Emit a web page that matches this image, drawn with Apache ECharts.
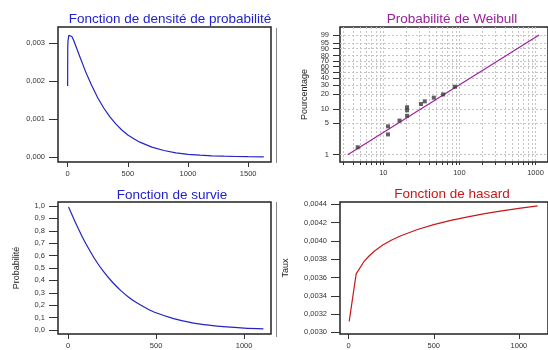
<!DOCTYPE html>
<html>
<head>
<meta charset="utf-8">
<script src="https://cdn.jsdelivr.net/npm/echarts@6/dist/echarts.min.js"></script>
<style>
  html, body { margin: 0; padding: 0; background: #fff; }
  #chart { width: 548px; height: 350px; }
</style>
</head>
<body>
<div id="chart"></div>
<script>
// ---- Densité de probabilité ----
const densityT = [0, 1, 3, 10, 20, 35, 50, 75, 100, 150, 200, 250, 300, 350, 400, 450, 500, 550, 600, 700, 800, 900, 1000, 1100, 1200, 1300, 1400, 1500, 1630];
const densityF = [0.00187, 0.00287, 0.00305, 0.00320, 0.00323, 0.00317, 0.00307, 0.00286, 0.00265, 0.00224, 0.00188, 0.00156, 0.00129, 0.00106, 0.00087, 0.00071, 0.00058, 0.00048, 0.00039, 0.00026, 0.00017, 0.00011, 0.00007, 0.000047, 0.000030, 0.000020, 0.000013, 0.000008, 0.000004];
const densityXTicks = [0, 500, 1000, 1500];
const densityYTicks = [0, 0.001, 0.002, 0.003];

// ---- Probabilité de Weibull (papier de probabilité) ----
const weibullX = [4.6, 11.5, 11.5, 16.3, 20.5, 20.5, 20.5, 31.2, 35, 46, 61, 87];
const weibullPct = [1.46, 2.8, 4.2, 5.6, 7.1, 9.3, 10.8, 12.6, 14.3, 17.0, 19.7, 27.8];
const fitX = [3.4, 1114];
const fitPct = [1, 99];
const weibullPctTicks = [1, 5, 10, 20, 30, 40, 50, 60, 70, 80, 90, 95, 99];
const weibullXLabels = [10, 100, 1000];
const weibullXGrid = [3, 4, 5, 6, 7, 8, 9, 10, 20, 30, 40, 50, 60, 70, 80, 90, 100, 200, 300, 400, 500, 600, 700, 800, 900, 1000];

// ---- Fonction de survie ----
const survT = [3, 25, 50, 75, 100, 150, 200, 250, 300, 350, 400, 450, 500, 600, 700, 800, 900, 1000, 1110];
const survS = [0.991, 0.921, 0.842, 0.768, 0.699, 0.577, 0.474, 0.389, 0.318, 0.259, 0.211, 0.172, 0.139, 0.092, 0.060, 0.039, 0.025, 0.016, 0.010];
const survXTicks = [0, 500, 1000];
const survYTicks = [0, 0.1, 0.2, 0.3, 0.4, 0.5, 0.6, 0.7, 0.8, 0.9, 1.0];

// ---- Fonction de hasard ----
const hazT = [3, 44, 90, 120, 150, 200, 250, 300, 400, 500, 600, 700, 800, 900, 1000, 1110];
const hazH = [0.00312, 0.00364, 0.003775, 0.003835, 0.003886, 0.003954, 0.004007, 0.004051, 0.004122, 0.004178, 0.004224, 0.004263, 0.004297, 0.004327, 0.004355, 0.004382];
const hazXTicks = [0, 500, 1000];
const hazYTicks = [0.0030, 0.0032, 0.0034, 0.0036, 0.0038, 0.0040, 0.0042, 0.0044];

// Weibull probability-paper transform: y = ln(-ln(1 - p))
const wb = p => Math.log(-Math.log(1 - p / 100));
const lg = v => Math.log10(v);
const comma = (v, d) => v.toFixed(d).replace('.', ',');

const FONT = '"Liberation Sans", Arial, sans-serif';
const LABEL = { fontFamily: FONT, fontSize: 7.5, color: '#333' };
const BORDER = '#222';

function gridBox(left, top, width, height) {
  return { left, top, width, height, show: true, borderColor: BORDER, borderWidth: 1.5, backgroundColor: '#fff' };
}

function valueAxis(gridIndex, min, max, ticks, fmt, tickLen, margin, extra) {
  return Object.assign({
    type: 'value', gridIndex, min, max,
    axisLine: { show: false, onZero: false },
    axisTick: { show: true, length: tickLen, customValues: ticks, lineStyle: { color: '#333', width: 1 } },
    axisLabel: Object.assign({ customValues: ticks, formatter: fmt, margin }, LABEL),
    splitLine: { show: false }
  }, extra || {});
}

const wbTickPos = weibullPctTicks.map(wb);
const gridLineStyle = { color: '#c4c4c4', type: [2, 2], width: 1 };

const chart = echarts.init(document.getElementById('chart'), null, { renderer: 'canvas' });

chart.setOption({
  animation: false,
  backgroundColor: '#fff',
  title: [
    { text: 'Fonction de densité de probabilité', left: 165, top: 7, textAlign: 'center',
      textStyle: { fontFamily: FONT, fontSize: 13.5, fontWeight: 'normal', color: '#2222cc' } },
    { text: 'Probabilité de Weibull', left: 447, top: 7, textAlign: 'center',
      textStyle: { fontFamily: FONT, fontSize: 13.5, fontWeight: 'normal', color: '#992299' } },
    { text: 'Fonction de survie', left: 167, top: 183, textAlign: 'center',
      textStyle: { fontFamily: FONT, fontSize: 13.5, fontWeight: 'normal', color: '#2222cc' } },
    { text: 'Fonction de hasard', left: 447, top: 182, textAlign: 'center',
      textStyle: { fontFamily: FONT, fontSize: 13.5, fontWeight: 'normal', color: '#c81818' } }
  ],
  grid: [
    gridBox(58, 27, 213, 135),
    gridBox(340, 27, 216, 135),
    gridBox(58, 202, 213, 134),
    gridBox(340, 202, 216, 134)
  ],
  xAxis: [
    valueAxis(0, -80, 1690, densityXTicks, v => String(v), 5, 8),
    {
      type: 'value', gridIndex: 1, min: 0.43, max: 3.164,
      axisLine: { show: false, onZero: false },
      axisTick: { show: true, length: 3, customValues: weibullXGrid.map(lg), lineStyle: { color: '#333' } },
      axisLabel: Object.assign({ customValues: weibullXLabels.map(lg), margin: 7,
        formatter: v => String(Math.round(Math.pow(10, v))) }, LABEL),
      splitLine: { show: true, lineStyle: gridLineStyle }
    },
    valueAxis(2, -57, 1153, survXTicks, v => String(v), 5, 8),
    valueAxis(3, -51, 1171, hazXTicks, v => String(v), 5, 8)
  ],
  yAxis: [
    valueAxis(0, -0.000132, 0.003421, densityYTicks, v => comma(v, 3), 9, 13),
    {
      type: 'value', gridIndex: 1, min: -4.974, max: 1.937,
      name: 'Pourcentage', nameLocation: 'middle', nameGap: 31,
      nameTextStyle: { fontFamily: FONT, fontSize: 9, color: '#222' },
      axisLine: { show: false, onZero: false },
      axisTick: { show: true, length: 7, customValues: wbTickPos, lineStyle: { color: '#333' } },
      axisLabel: Object.assign({ customValues: wbTickPos, margin: 11,
        formatter: v => {
          let best = 0;
          wbTickPos.forEach((p, i) => { if (Math.abs(p - v) < Math.abs(wbTickPos[best] - v)) best = i; });
          return String(weibullPctTicks[best]);
        } }, LABEL),
      splitLine: { show: true, lineStyle: gridLineStyle }
    },
    valueAxis(2, -0.032, 1.032, survYTicks, v => comma(v, 1), 9, 13,
      { name: 'Probabilité', nameLocation: 'middle', nameGap: 37,
        nameTextStyle: { fontFamily: FONT, fontSize: 9, color: '#222' } }),
    valueAxis(3, 0.002982, 0.004425, hazYTicks, v => comma(v, 4), 9, 13,
      { name: 'Taux', nameLocation: 'middle', nameGap: 50,
        nameTextStyle: { fontFamily: FONT, fontSize: 9, color: '#222' } })
  ],
  series: [
    {
      type: 'line', xAxisIndex: 0, yAxisIndex: 0, showSymbol: false, smooth: false,
      data: densityT.map((t, i) => [t, densityF[i]]),
      lineStyle: { color: '#2323c8', width: 1.2 }
    },
    {
      type: 'line', xAxisIndex: 1, yAxisIndex: 1, showSymbol: false,
      data: fitX.map((x, i) => [lg(x), wb(fitPct[i])]),
      lineStyle: { color: '#a020a0', width: 1.2 }, z: 3
    },
    {
      type: 'scatter', xAxisIndex: 1, yAxisIndex: 1, symbol: 'rect', symbolSize: 4,
      data: weibullX.map((x, i) => [lg(x), wb(weibullPct[i])]),
      itemStyle: { color: '#3a3a3a' }, z: 4
    },
    {
      type: 'line', xAxisIndex: 2, yAxisIndex: 2, showSymbol: false, smooth: 0.3,
      data: survT.map((t, i) => [t, survS[i]]),
      lineStyle: { color: '#2323c8', width: 1.2 }
    },
    {
      type: 'line', xAxisIndex: 3, yAxisIndex: 3, showSymbol: false, smooth: false,
      data: hazT.map((t, i) => [t, hazH[i]]),
      lineStyle: { color: '#c81818', width: 1.2 }
    }
  ],
  graphic: [
    { type: 'line', shape: { x1: 276.5, y1: 28, x2: 276.5, y2: 163 }, style: { stroke: '#888', lineWidth: 1 } },
    { type: 'line', shape: { x1: 276.5, y1: 202, x2: 276.5, y2: 337 }, style: { stroke: '#888', lineWidth: 1 } }
  ]
});
</script>
</body>
</html>
